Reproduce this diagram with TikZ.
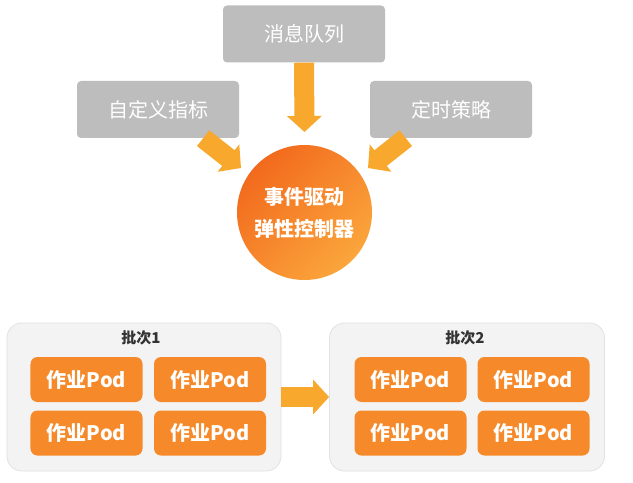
\documentclass[tikz,border=0pt]{standalone}
\usepackage{fontspec}
\setmainfont{Noto Sans CJK SC}
\usetikzlibrary{arrows.meta,calc}
\definecolor{graybox}{HTML}{BDBDBD}
\definecolor{podorange}{HTML}{F68A2A}
\definecolor{arrowc}{HTML}{F8A82C}
\definecolor{batchbg}{HTML}{F3F3F3}
\definecolor{batchedge}{HTML}{E2E2E2}
\definecolor{circA}{HTML}{F26A1D}
\definecolor{circB}{HTML}{FBA63C}
\tikzset{
  srcbox/.style={rectangle, rounded corners=4bp, fill=graybox, text=white,
    minimum width=162bp, minimum height=57bp, inner sep=0pt, font=\fontsize{20bp}{24bp}\selectfont},
  ctrlnode/.style={circle, minimum size=135bp, inner sep=0pt, top color=circA, bottom color=circB,
    shading angle=45, text=white, align=center, font=\bfseries\fontsize{20bp}{32bp}\selectfont},
  batchbox/.style={rectangle, rounded corners=15bp, fill=batchbg, draw=batchedge, line width=0.8bp,
    minimum height=148bp, inner sep=0pt},
  podbox/.style={rectangle, rounded corners=7bp, fill=podorange, text=white,
    minimum width=112bp, minimum height=45bp, inner sep=0pt, font=\bfseries\fontsize{20bp}{24bp}\selectfont},
  batchtitle/.style={text=black!80, font=\bfseries\fontsize{15bp}{18bp}\selectfont, inner sep=0pt},
  fatarrow/.style={draw=arrowc, line width=20bp, -{Triangle[length=16bp,width=34bp]}},
}
\begin{document}
\begin{tikzpicture}[x=1bp,y=-1bp]
\useasboundingbox (0,0) rectangle (633,483);
\fill[white] (0,0) rectangle (633,483);

\node[srcbox] (mq) at (304,34) {消息队列};
\node[srcbox] (cm) at (158,109.5) {自定义指标};
\node[srcbox] (ds) at (451,109.5) {定时策略};
\node[ctrlnode] (ctrl) at (304.5,212.5) {事件驱动\\弹性控制器};

\coordinate (cmtail) at ($(cm.south east)+(-36,0)$);
\coordinate (cmtip) at (241,168);
\coordinate (dstail) at ($(ds.south west)+(36,0)$);
\coordinate (dstip) at (368,168);
\coordinate (mqtip) at (304.5,132);

\draw[fatarrow] (mq.south) -- (mqtip);
\draw[fatarrow] (cmtail) -- (cmtip);
\draw[fatarrow] (dstail) -- (dstip);

\node[batchbox, minimum width=274bp] (b1) at (144,397) {};
\node[batchbox, minimum width=275bp] (b2) at (467,397) {};
\node[batchtitle] (t1) at (141,338) {批次1};
\node[batchtitle] (t2) at (465,338) {批次2};

\node[podbox] (p11) at (86.5,379.5) {作业Pod};
\node[podbox] (p12) at (210,379.5) {作业Pod};
\node[podbox] (p13) at (86.5,433) {作业Pod};
\node[podbox] (p14) at (210,433) {作业Pod};
\node[podbox] (p21) at (410.5,379.5) {作业Pod};
\node[podbox] (p22) at (533.5,379.5) {作业Pod};
\node[podbox] (p23) at (410.5,433) {作业Pod};
\node[podbox] (p24) at (533.5,433) {作业Pod};

\draw[fatarrow] (b1.east) -- (b2.west);
\end{tikzpicture}
\end{document}
